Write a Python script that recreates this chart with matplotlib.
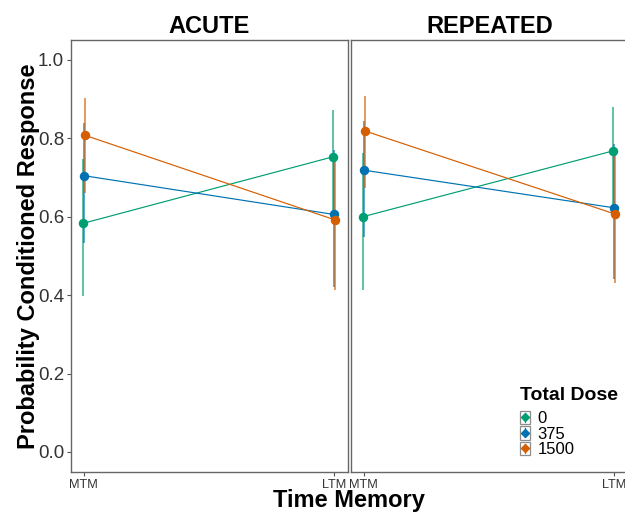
import matplotlib
matplotlib.use('Agg')
import matplotlib.pyplot as plt
from matplotlib.lines import Line2D
from matplotlib.patches import Rectangle
from matplotlib.legend_handler import HandlerBase

plt.rcParams['font.family'] = ['Liberation Sans', 'DejaVu Sans']

PANELS = ['ACUTE', 'REPEATED']
TIMES = ['MTM', 'LTM']
DOSES = ['0', '375', '1500']

# mean and confidence limits per panel, dose -> [MTM, LTM]
MEAN = {
    'ACUTE': {'0': [0.583, 0.753], '375': [0.705, 0.606], '1500': [0.808, 0.592]},
    'REPEATED': {'0': [0.600, 0.768], '375': [0.719, 0.623], '1500': [0.819, 0.607]},
}
LOWER = {
    'ACUTE': {'0': [0.397, 0.590], '375': [0.533, 0.421], '1500': [0.660, 0.413]},
    'REPEATED': {'0': [0.413, 0.600], '375': [0.549, 0.440], '1500': [0.673, 0.430]},
}
UPPER = {
    'ACUTE': {'0': [0.748, 0.872], '375': [0.838, 0.770], '1500': [0.902, 0.750]},
    'REPEATED': {'0': [0.762, 0.881], '375': [0.845, 0.785], '1500': [0.908, 0.770]},
}

COLORS = {'0': '#009E73', '375': '#0072B2', '1500': '#D55E00'}
DODGE = {'0': -0.003, '375': 0.0, '1500': 0.005}


class KeyHandler(HandlerBase):
    # ggplot-like key: grey framed box with a point and a vertical bar
    def create_artists(self, legend, orig_handle, xdescent, ydescent,
                       width, height, fontsize, trans):
        color = orig_handle.get_color()
        x0, y0 = -xdescent, -ydescent
        box = Rectangle((x0, y0), width, height, facecolor='white',
                        edgecolor='#8c8c8c', lw=0.9, transform=trans)
        cx = x0 + width / 2
        bar = Line2D([cx, cx], [y0 + 1.5, y0 + height - 1.5], color=color,
                     lw=0.9, transform=trans)
        pt = Line2D([cx], [y0 + height / 2], color=color, marker='D', ms=4,
                    lw=0, transform=trans)
        return [box, bar, pt]


fig = plt.figure(figsize=(6.25, 5.12), dpi=100)
axes = [
    fig.add_axes([0.1136, 0.0775, 0.4424, 0.8444]),
    fig.add_axes([0.5616, 0.0775, 0.4424, 0.8444]),
]

for ax, panel in zip(axes, PANELS):
    for dose in DOSES:
        xs = [i + 1 + DODGE[dose] for i in range(len(TIMES))]
        m = MEAN[panel][dose]
        lo = [a - b for a, b in zip(m, LOWER[panel][dose])]
        hi = [b - a for a, b in zip(m, UPPER[panel][dose])]
        ax.errorbar(xs, m, yerr=[lo, hi], fmt='none', ecolor=COLORS[dose],
                    elinewidth=1.1, capsize=0, alpha=0.8, zorder=2)
        ax.plot(xs, m, color=COLORS[dose], lw=0.85, marker='o', ms=5.8,
                zorder=3)

    ax.set_xlim(0.95, 2.055)
    ax.set_ylim(-0.052, 1.051)
    ax.set_xticks([1, 2])
    ax.set_xticklabels(TIMES, fontsize=9.2, color='#333333')
    ax.set_yticks([0, 0.2, 0.4, 0.6, 0.8, 1.0])
    ax.set_yticklabels(['0.0', '0.2', '0.4', '0.6', '0.8', '1.0'],
                       fontsize=13.5, color='#333333')
    ax.tick_params(length=3, width=0.8, color='#555555', pad=2)
    ax.tick_params(axis='x', pad=1.5)
    for s in ax.spines.values():
        s.set_color('#666666')
        s.set_linewidth(1.0)
    ax.set_title(panel, fontsize=17, fontweight='bold', pad=5)

axes[1].tick_params(axis='y', length=0, labelleft=False)

fig.text(0.558, 0.010, 'Time Memory', ha='center', va='baseline',
         fontsize=17, fontweight='bold')
fig.text(0.045, 0.5, 'Probability Conditioned Response', ha='center',
         va='center', rotation=90, fontsize=17, fontweight='bold')

proxies = [Line2D([], [], color=COLORS[d]) for d in DOSES]
leg = axes[1].legend(proxies, DOSES, title='Total Dose',
                     handler_map={Line2D: KeyHandler()},
                     loc='lower right', bbox_to_anchor=(0.995, 0.016),
                     frameon=False, fontsize=12, title_fontsize=14,
                     handlelength=0.6, handleheight=0.85, labelspacing=0.0,
                     handletextpad=0.45, borderpad=0.0)
leg.get_title().set_fontweight('bold')
leg._legend_box.align = 'left'
leg._legend_box.sep = 5

fig.savefig('out.png', dpi=100)
